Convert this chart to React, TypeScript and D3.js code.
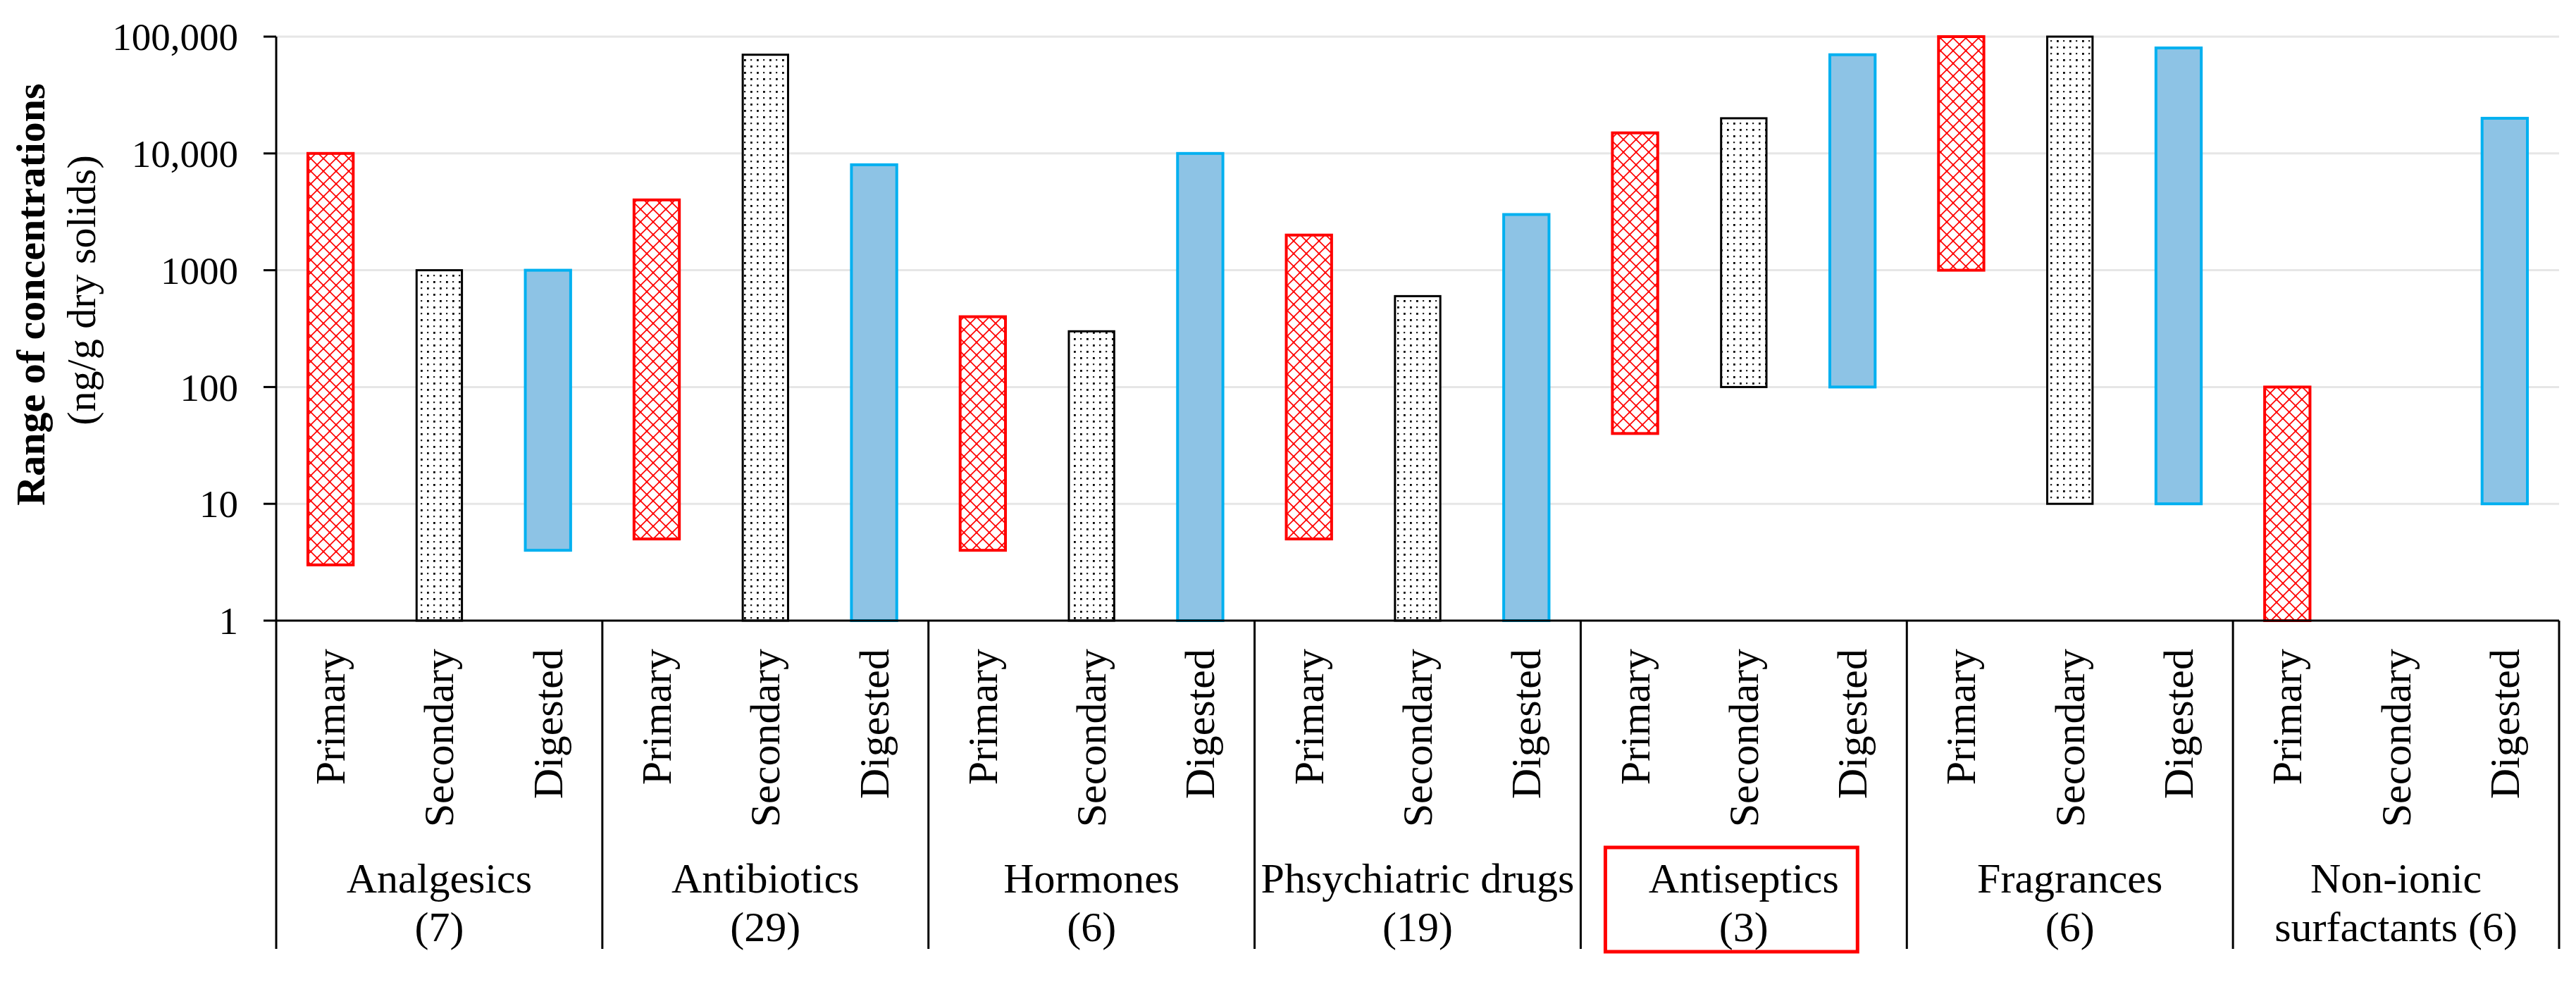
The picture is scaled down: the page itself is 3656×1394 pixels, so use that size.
import React from "react";
import * as d3 from "d3";

const groups = ["Analgesics", "Antibiotics", "Hormones", "Phsychiatric drugs", "Antiseptics", "Fragrances", "Non-ionic surfactants"];
const groupLine1 = ["Analgesics", "Antibiotics", "Hormones", "Phsychiatric drugs", "Antiseptics", "Fragrances", "Non-ionic"];
const groupLine2 = ["(7)", "(29)", "(6)", "(19)", "(3)", "(6)", "surfactants (6)"];
const series = ["Primary", "Secondary", "Digested"];

// [min, max] per group
const primaryRange: [number, number][] = [[3, 10000], [5, 4000], [4, 400], [5, 2000], [40, 15000], [1000, 100000], [1, 100]];
const secondaryRange: ([number, number] | null)[] = [[1, 1000], [1, 70000], [1, 300], [1, 600], [100, 20000], [10, 100000], null];
const digestedRange: [number, number][] = [[4, 1000], [1, 8000], [1, 10000], [1, 3000], [100, 70000], [10, 80000], [10, 20000]];

const yTicks = [1, 10, 100, 1000, 10000, 100000];
const yTickLabels = ["1", "10", "100", "1000", "10,000", "100,000"];
const highlightGroup = "Antiseptics";

const W = 3656, H = 1394;
const left = 392, right = 3632, top = 52, bottom = 881;
const FONT = "'Liberation Serif', 'Times New Roman', serif";

export default function App() {
  const y = d3.scaleLog().domain([1, 100000]).range([bottom, top]);
  const xg = d3.scaleBand<string>().domain(groups).range([left, right]).padding(0);
  const gw = xg.bandwidth();
  const xs = d3.scaleBand<string>().domain(series).range([0, gw]).paddingInner(0.583).paddingOuter(0.2915);
  const bw = xs.bandwidth();

  const data = [primaryRange, secondaryRange, digestedRange];
  const styles = [
    { fill: "url(#redHatch)", stroke: "#FF0000", sw: 4 },
    { fill: "url(#dots)", stroke: "#000000", sw: 3 },
    { fill: "#8DC3E5", stroke: "#00B0F0", sw: 4 },
  ];

  const dividerBottom = 1347;

  return (
    <svg width={W} height={H} style={{ position: "fixed", left: 0, top: 0, background: "#fff" }} fontFamily={FONT}>
      <defs>
        <pattern id="redHatch" width={18} height={18} patternUnits="userSpaceOnUse">
          <rect width={18} height={18} fill="#fff" />
          <path d="M0,0 L18,18 M18,0 L0,18" stroke="#FF0000" strokeWidth={1.6} fill="none" />
          <circle cx={9} cy={9} r={1.5} fill="#FF0000" />
          <circle cx={0} cy={0} r={1.5} fill="#FF0000" />
          <circle cx={18} cy={0} r={1.5} fill="#FF0000" />
          <circle cx={0} cy={18} r={1.5} fill="#FF0000" />
          <circle cx={18} cy={18} r={1.5} fill="#FF0000" />
        </pattern>
        <pattern id="dots" width={18} height={18} patternUnits="userSpaceOnUse">
          <rect width={18} height={18} fill="#fff" />
          <rect x={3} y={3} width={2.8} height={2.8} fill="#000" />
          <rect x={12} y={12} width={2.8} height={2.8} fill="#000" />
          <rect x={12} y={3} width={2.2} height={2.2} fill="#222" />
          <rect x={3} y={12} width={2.2} height={2.2} fill="#222" />
        </pattern>
      </defs>

      {/* gridlines */}
      {yTicks.slice(1).map((t) => (
        <line key={"g" + t} x1={left} x2={right} y1={y(t)} y2={y(t)} stroke="#E6E6E6" strokeWidth={3} />
      ))}

      {/* bars */}
      {groups.map((g, gi) =>
        series.map((s, si) => {
          const r = data[si][gi];
          if (!r) return null;
          const x0 = (xg(g) as number) + (xs(s) as number);
          const y0 = y(r[1]);
          const y1 = y(r[0]);
          const st = styles[si];
          return (
            <rect key={g + s} x={x0} y={y0} width={bw} height={y1 - y0} fill={st.fill} stroke={st.stroke} strokeWidth={st.sw} />
          );
        })
      )}

      {/* y axis */}
      <line x1={left} x2={left} y1={top} y2={bottom} stroke="#000" strokeWidth={3} />
      {yTicks.map((t, i) => (
        <g key={"t" + t}>
          <line x1={left - 18} x2={left} y1={y(t)} y2={y(t)} stroke="#000" strokeWidth={3} />
          <text x={338} y={y(t)} dy="0.35em" textAnchor="end" fontSize={55} fill="#000">{yTickLabels[i]}</text>
        </g>
      ))}

      {/* x axis */}
      <line x1={left} x2={right} y1={bottom} y2={bottom} stroke="#000" strokeWidth={3} />
      {[...groups.map((g) => xg(g) as number), right].map((xv, i) => (
        <line key={"d" + i} x1={xv} x2={xv} y1={bottom} y2={dividerBottom} stroke="#000" strokeWidth={3} />
      ))}

      {/* series labels */}
      {groups.map((g) =>
        series.map((s) => {
          const cx = (xg(g) as number) + (xs(s) as number) + bw / 2;
          return (
            <text key={"l" + g + s} transform={`translate(${cx + 20},921) rotate(-90)`} textAnchor="end" fontSize={60} fill="#000">{s}</text>
          );
        })
      )}

      {/* group labels */}
      {groups.map((g, gi) => {
        const cx = (xg(g) as number) + gw / 2;
        return (
          <g key={"gl" + g}>
            <text x={cx} y={1267} textAnchor="middle" fontSize={60} fill="#000">{groupLine1[gi]}</text>
            <text x={cx} y={1336} textAnchor="middle" fontSize={60} fill="#000">{groupLine2[gi]}</text>
          </g>
        );
      })}

      {/* highlight box */}
      {(() => {
        const gx = xg(highlightGroup) as number;
        return <rect x={gx + 35} y={1203} width={gw - 105} height={148} fill="none" stroke="#FF0000" strokeWidth={5} />;
      })()}

      {/* y title */}
      <text transform="translate(63,418) rotate(-90)" textAnchor="middle" fontSize={58} fontWeight="bold" fill="#000">Range of concentrations</text>
      <text transform="translate(135,412) rotate(-90)" textAnchor="middle" fontSize={58} fill="#000">(ng/g dry solids)</text>
    </svg>
  );
}
